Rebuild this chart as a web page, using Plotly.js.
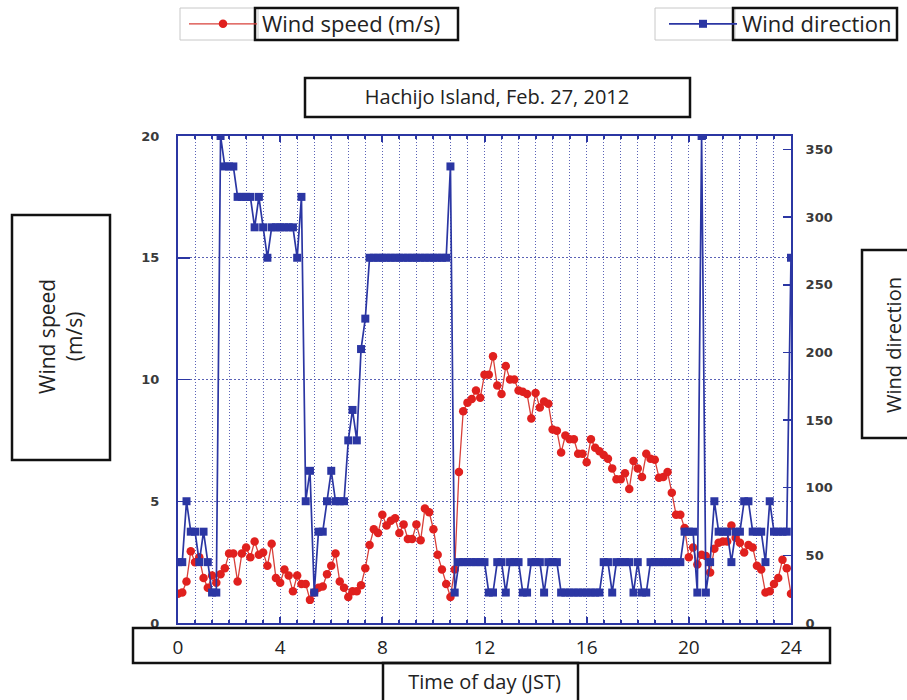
<!DOCTYPE html>
<html><head><meta charset="utf-8">
<script src="https://cdn.plot.ly/plotly-3.0.1.min.js"></script>
<style>html,body{margin:0;padding:0;background:#fff}#chart{width:907px;height:700px}</style>
</head><body><div id="chart"></div>
<script>
// ---- data (10-minute observations, Hachijo Island, 27 Feb 2012) ----
const sampleMinutes = 10;
const windSpeed = [
 1.2,1.25,1.7,2.95,2.5,2.7,1.85,1.45,1.95,1.65,2.0,2.25,2.85,2.85,1.7,2.85,3.1,2.7,3.35,2.8,
 2.9,2.35,3.25,1.85,1.65,2.2,1.95,1.3,1.95,1.6,1.6,0.95,1.25,1.45,1.5,2.0,2.35,2.85,1.7,1.45,
 1.07,1.3,1.3,1.55,2.25,3.2,3.85,3.7,4.45,4.0,4.2,4.3,3.7,4.05,3.45,3.45,4.05,3.4,4.7,4.55,
 3.85,2.8,2.2,1.6,1.07,2.2,6.2,8.7,9.05,9.2,9.55,9.25,10.2,10.2,10.95,9.75,9.4,10.55,10.0,10.0,
 9.55,9.5,9.4,8.4,9.45,8.85,9.1,9.0,7.95,7.9,7.0,7.7,7.55,7.55,6.95,6.95,6.6,7.55,7.2,7.05,
 6.9,6.75,6.35,5.9,5.9,6.15,5.5,6.65,6.35,6.0,6.95,6.75,6.7,5.97,6.0,6.2,5.35,4.45,4.45,3.9,
 2.7,3.1,2.4,2.8,2.75,2.07,3.05,3.3,3.35,3.35,4.0,3.5,3.3,2.9,3.2,3.1,2.35,2.2,1.25,1.3,
 1.6,1.85,2.6,2.25,1.2
];
const windDirection = [
 45,45,90,67.5,67.5,45,67.5,45,22.5,22.5,360,337.5,337.5,337.5,315,315,315,315,292.5,315,
 292.5,270,292.5,292.5,292.5,292.5,292.5,292.5,270,315,90,112.5,22.5,67.5,67.5,90,112.5,90,90,90,
 135,157.5,135,202.5,225,270,270,270,270,270,270,270,270,270,270,270,270,270,270,270,
 270,270,270,270,337.5,22.5,45,45,45,45,45,45,45,22.5,22.5,45,45,22.5,45,45,
 45,22.5,22.5,45,45,45,22.5,45,45,45,22.5,22.5,22.5,22.5,22.5,22.5,22.5,22.5,22.5,22.5,
 45,45,22.5,45,45,45,45,22.5,45,22.5,22.5,45,45,45,45,45,45,45,45,67.5,
 67.5,67.5,22.5,360,22.5,45,90,67.5,67.5,67.5,45,67.5,67.5,90,90,67.5,67.5,67.5,45,90,
 67.5,67.5,67.5,67.5,270
];
const hourTicks = [0,4,8,12,16,20,24];
const speedTicks = [0,5,10,15,20];
const directionTicks = [0,50,100,150,200,250,300,350];
const seriesNames = ["Wind speed (m/s)", "Wind direction"];
const titleText = "Hachijo Island, Feb. 27, 2012";
const xTitle = "Time of day (JST)";
const ySpeedTitle = "Wind speed<br>(m/s)";
const yDirTitle = "Wind direction";

const hours = windSpeed.map((_, i) => i * sampleMinutes / 60);

// ---- geometry helpers (pixel -> paper) ----
const PL = 178, PR = 791, PT = 136, PB = 623;
const xp = px => (px - PL) / (PR - PL);
const yp = py => (PB - py) / (PB - PT);
const box = (x0, y0, x1, y1, color, w) => ({
  type: 'rect', xref: 'paper', yref: 'paper',
  x0: xp(x0), x1: xp(x1), y0: yp(y1), y1: yp(y0),
  line: {color: color, width: w}, fillcolor: 'rgba(0,0,0,0)', layer: 'above'
});

const BLUE = '#2b36a3', RED = '#e0201e', GRID = '#5a62b6';
const TXT = '#222222';
const FAM = 'Open Sans, sans-serif';
const font = s => ({family: FAM, size: s, color: TXT});
const numFont = {family: 'DejaVu Sans, sans-serif', size: 13, color: '#3a3a3a', weight: 'bold'};

const traces = [
  {x: hours, y: windDirection, yaxis: 'y2', name: seriesNames[1], legend: 'legend2',
   type: 'scatter', mode: 'lines+markers',
   line: {color: BLUE, width: 1.7},
   marker: {symbol: 'square', size: 8, color: BLUE}},
  {x: hours, y: windSpeed, name: seriesNames[0], legend: 'legend',
   type: 'scatter', mode: 'lines+markers',
   line: {color: '#d8403a', width: 1.3},
   marker: {symbol: 'circle', size: 8.5, color: RED}}
];

const layout = {
  width: 907, height: 700,
  margin: {l: PL, r: 907 - PR, t: PT, b: 700 - PB, pad: 0, autoexpand: false},
  paper_bgcolor: '#ffffff', plot_bgcolor: '#ffffff',
  showlegend: true,
  title: {text: titleText, font: font(20), xref: 'paper', x: xp(497), xanchor: 'center',
          yref: 'container', y: 1 - 97 / 700, yanchor: 'middle'},
  xaxis: {
    range: [0, 24], tickvals: hourTicks, ticktext: hourTicks.map(String),
    showline: true, linecolor: BLUE, linewidth: 2, mirror: 'ticks',
    ticks: 'inside', ticklen: 6, tickcolor: BLUE, tickwidth: 2,
    showgrid: true, gridcolor: GRID, griddash: '1px,2px', gridwidth: 1,
    minor: {dtick: 2 / 3, tick0: 0, showgrid: true, gridcolor: GRID, griddash: '1px,2px', gridwidth: 1,
            ticks: 'inside', ticklen: 3, tickcolor: BLUE},
    zeroline: false, tickfont: font(19), ticklabelstandoff: 6,
    title: {text: xTitle, font: font(20), standoff: 16},
    fixedrange: true, automargin: false
  },
  yaxis: {
    range: [0, 20], tickvals: speedTicks,
    showline: true, linecolor: BLUE, linewidth: 2,
    ticks: 'inside', ticklen: 12, tickcolor: BLUE, tickwidth: 1.5,
    showgrid: true, gridcolor: GRID, griddash: '2px,2px', gridwidth: 1.2,
    zeroline: false, tickfont: numFont, ticklabelstandoff: 14, automargin: false
  },
  yaxis2: {
    range: [0, 360], tickvals: directionTicks, overlaying: 'y', side: 'right',
    showline: true, linecolor: BLUE, linewidth: 2,
    ticks: 'inside', ticklen: 8, tickcolor: BLUE, tickwidth: 1.5,
    showgrid: false, zeroline: false, tickfont: numFont, ticklabelstandoff: 10, automargin: false
  },
  legend: {x: xp(184), y: yp(3), xanchor: 'left', yanchor: 'top', itemwidth: 68,
           font: font(22), bgcolor: 'rgba(0,0,0,0)', borderwidth: 0},
  legend2: {x: xp(664), y: yp(3), xanchor: 'left', yanchor: 'top', itemwidth: 68,
           font: font(22), bgcolor: 'rgba(0,0,0,0)', borderwidth: 0},
  annotations: [
    {text: ySpeedTitle, xref: 'paper', yref: 'paper', x: xp(60), y: yp(337), textangle: -90,
     showarrow: false, font: font(21), xanchor: 'center', yanchor: 'middle'},
    {text: yDirTitle, xref: 'paper', yref: 'paper', x: xp(893), y: yp(345), textangle: -90,
     showarrow: false, font: font(20), xanchor: 'center', yanchor: 'middle'}
  ],
  shapes: [
    box(180, 8, 258, 40, '#c8c8c8', 1),
    box(255, 8, 458, 40, '#111', 2.5),
    box(655, 8, 735, 40, '#c8c8c8', 1),
    box(733, 8, 897, 40, '#111', 2.5),
    box(305, 78, 690, 117, '#111', 2.5),
    box(12, 215, 110, 460, '#111', 2.5),
    box(862, 250, 915, 438, '#111', 2.5),
    box(133, 628, 830, 663, '#111', 2.5),
    box(383, 663, 578, 705, '#111', 2.5)
  ]
};

Plotly.newPlot('chart', traces, layout, {staticPlot: true, displayModeBar: false});
</script></body></html>
